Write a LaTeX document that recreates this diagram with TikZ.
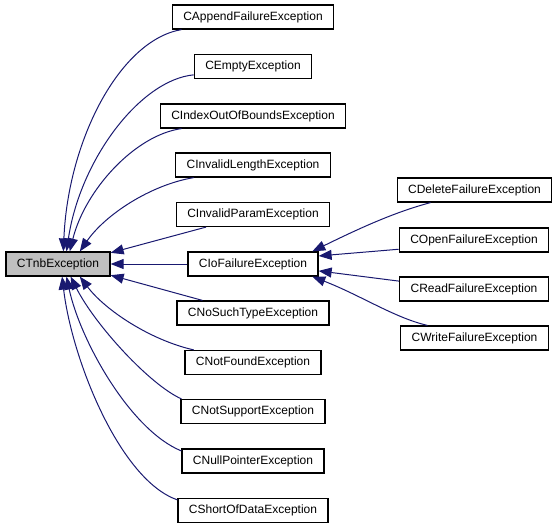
\documentclass[tikz,border=0pt]{standalone}
\usepackage{fontspec}
\setmainfont{Liberation Sans}
\usetikzlibrary{arrows.meta}

\tikzset{
  cls/.style={shape=rectangle,draw=black,line width=1.2pt,fill=white,
    minimum height=24pt,inner xsep=11pt,text height=9pt,text depth=2.5pt,
    font=\fontsize{12}{14}\selectfont},
  base/.style={cls,fill=black!25},
  inh/.style={draw={rgb,255:red,25;green,25;blue,112},line width=1pt,
    {Triangle[length=13pt,width=10pt]}-}
}

\begin{document}
\begin{tikzpicture}[x=1pt,y=-1pt]
    \useasboundingbox (0,0) rectangle (560,528);

    \node[base] (tnb) at (58,264) {CTnbException};

    \node[cls] (append) at (253,17) {CAppendFailureException};
    \node[cls] (empty) at (253,66.5) {CEmptyException};
    \node[cls] (index) at (253,116) {CIndexOutOfBoundsException};
    \node[cls] (length) at (253,165) {CInvalidLengthException};
    \node[cls] (param) at (253,214.5) {CInvalidParamException};
    \node[cls] (io) at (253,264) {CIoFailureException};
    \node[cls] (nosuch) at (253,313) {CNoSuchTypeException};
    \node[cls] (notfound) at (253,362.5) {CNotFoundException};
    \node[cls] (notsupp) at (253,411.5) {CNotSupportException};
    \node[cls] (nullptr) at (253,461) {CNullPointerException};
    \node[cls] (short) at (253,510.5) {CShortOfDataException};

    \node[cls] (delete) at (474.5,190) {CDeleteFailureException};
    \node[cls] (open) at (474,240) {COpenFailureException};
    \node[cls] (read) at (474,289) {CReadFailureException};
    \node[cls] (write) at (474.5,338) {CWriteFailureException};

    \draw[inh] (tnb.67) .. controls (68,140) and (120,40) .. (append.190);
    \draw[inh] (tnb.56) .. controls (80,160) and (140,80) .. (empty.188);
    \draw[inh] (tnb.47) .. controls (85,190) and (135,135) .. (index.190);
    \draw[inh] (tnb.30) .. controls (105,215) and (150,185) .. (length.192);
    \draw[inh] (tnb.12) -- (param.195);
    \draw[inh] (tnb.east) -- (io.west);
    \draw[inh] (tnb.-12) -- (nosuch.166);
    \draw[inh] (tnb.-30) .. controls (105,310) and (150,340) .. (notfound.168);
    \draw[inh] (tnb.-45) .. controls (95,325) and (150,385) .. (notsupp.170);
    \draw[inh] (tnb.-56) .. controls (80,340) and (130,430) .. (nullptr.172);
    \draw[inh] (tnb.-72) .. controls (72,360) and (120,480) .. (short.172);

    \draw[inh] (io.12) .. controls (360,228) and (395,212) .. (delete.196);
    \draw[inh] (io.7) -- (open.187);
    \draw[inh] (io.-6) -- (read.174);
    \draw[inh] (io.-12) .. controls (360,295) and (395,318) .. (write.165);
\end{tikzpicture}
\end{document}
